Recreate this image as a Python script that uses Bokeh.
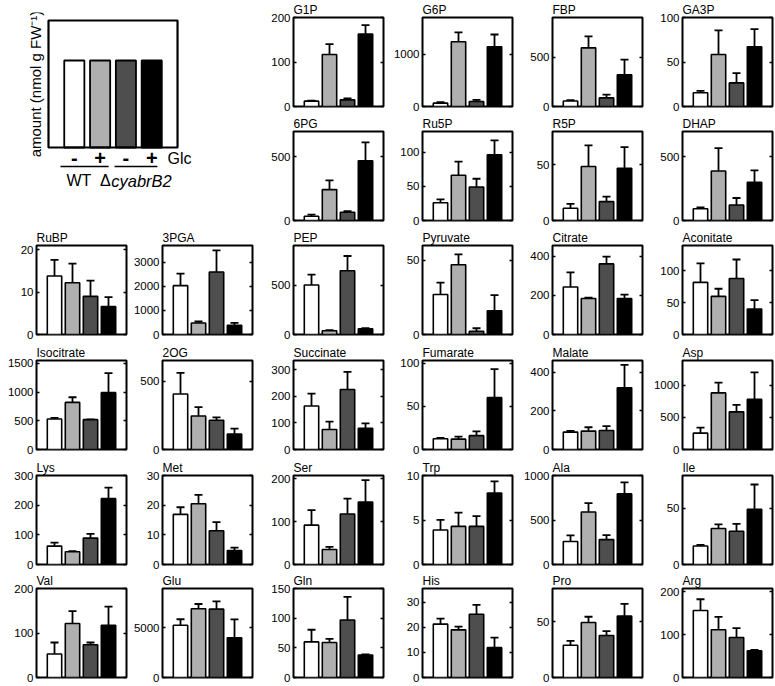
import math
from bokeh.plotting import figure
from bokeh.models import (Range1d, FixedTicker, LinearAxis, Whisker, TeeHead,
                          ColumnDataSource, Label, BoxAnnotation)
from bokeh.layouts import row, column
from bokeh.embed import file_html
from bokeh.resources import INLINE

# ---------------- data ----------------
groups = ["WT -Glc", "WT +Glc", "ΔcyabrB2 -Glc", "ΔcyabrB2 +Glc"]
positions = [1, 2, 3, 4]
legend_values = [1, 1, 1, 1]
legend_signs = ["-", "+", "-", "+"]

metabolites = ["G1P", "G6P", "FBP", "GA3P",
               "6PG", "Ru5P", "R5P", "DHAP",
               "RuBP", "3PGA", "PEP", "Pyruvate", "Citrate", "Aconitate",
               "Isocitrate", "2OG", "Succinate", "Fumarate", "Malate", "Asp",
               "Lys", "Met", "Ser", "Trp", "Ala", "Ile",
               "Val", "Glu", "Gln", "His", "Pro", "Arg"]

wt_minus = [12, 64, 55, 15.5,
            34, 26, 11, 93,
            13.8, 2030, 500, 27, 243, 82,
            530, 405, 164, 12.5, 90, 254,
            62, 16.9, 92, 3.87, 258, 16.4,
            53, 5226, 60, 21.3, 29, 156]
wt_plus = [117, 1236, 593, 58.5,
           243, 66, 48.5, 389,
           12.2, 480, 38, 47, 184, 60,
           820, 245, 75, 12, 95, 878,
           43, 20.5, 35, 4.28, 590, 32,
           122, 6870, 59, 19, 49.4, 111]
mut_minus = [15, 95, 87, 26.5,
             65, 49, 17, 122,
             9.0, 2600, 644, 2.2, 361, 88,
             520, 214, 226, 16, 98, 584,
             89, 11.4, 118, 4.28, 280, 29.5,
             74, 6840, 97, 25.2, 37.8, 93]
mut_plus = [163, 1140, 320, 67,
            470, 96, 47, 300,
            6.6, 380, 57, 16, 184, 40,
            990, 112, 80, 60, 319, 777,
            222, 4.7, 146, 8.04, 793, 49,
            118, 3970, 38, 11.9, 55.2, 62]

err_wt_minus = [1, 20, 10, 2,
                12, 5, 4, 10,
                3.8, 500, 105, 8, 75, 30,
                20, 155, 46, 1, 6, 85,
                12, 2.4, 35, 1.15, 70, 1,
                26, 600, 20.5, 2.2, 4, 26]
err_wt_plus = [23, 180, 117, 27,
               72, 20, 19, 180,
               4.5, 60, 5, 7, 5, 12,
               90, 65, 30, 3, 20, 160,
               2, 3, 6, 1.55, 100, 3.7,
               28, 480, 6, 1.3, 5.2, 30]
err_mut_minus = [3, 30, 33, 11,
                 8, 12, 4.5, 55,
                 3.7, 900, 150, 2, 37, 30,
                 0, 20, 66, 5, 23, 108,
                 14, 2.9, 36, 1.15, 50, 6.5,
                 5, 770, 39, 3.8, 3.8, 22]
err_mut_plus = [20, 235, 155, 20,
                145, 21, 19, 95,
                2.2, 100, 8, 10.5, 20, 14,
                340, 40, 18, 33, 118, 420,
                37, 1, 51, 1.3, 130, 22,
                42, 1840, 1, 4, 11, 2]

y_max = [200, 1700, 900, 100,
         700, 130, 80, 700,
         21, 3700, 900, 60, 455, 140,
         1550, 650, 335, 103, 460, 1380,
         300, 30, 208, 10, 1000, 79,
         201, 8900, 150, 35.5, 80, 207]
y_ticks = [[0, 100, 200], [0, 1000], [0, 500], [0, 50, 100],
           [0, 500], [0, 50, 100], [0, 50], [0, 500],
           [0, 10, 20], [0, 1000, 2000, 3000], [0, 500], [0, 50], [0, 200, 400], [0, 50, 100],
           [0, 500, 1000, 1500], [0, 500], [0, 100, 200, 300], [0, 50, 100], [0, 200, 400], [0, 500, 1000],
           [0, 100, 200, 300], [0, 10, 20, 30], [0, 100, 200], [0, 5, 10], [0, 500, 1000], [0, 50],
           [0, 100, 200], [0, 5000], [0, 50, 100, 150], [0, 10, 20, 30], [0, 50], [0, 100, 200]]

# ---------------- style / geometry ----------------
FONT = "Liberation Sans"
COLORS = ["#ffffff", "#afafaf", "#4e4e4e", "#000000"]
FRAME_H = 91
TOP_B = 15
ROW_HEIGHTS = [114, 114, 115, 115, 113, 115]


def panel(i, W, L, R, H):
    p = figure(width=W, height=H, x_range=Range1d(0, 5), y_range=Range1d(0, y_max[i]),
               output_backend="svg", toolbar_location=None,
               min_border_left=L, min_border_right=R, min_border_top=TOP_B,
               min_border_bottom=H - TOP_B - FRAME_H, title=metabolites[i])
    means = [wt_minus[i], wt_plus[i], mut_minus[i], mut_plus[i]]
    errs = [err_wt_minus[i], err_wt_plus[i], err_mut_minus[i], err_mut_plus[i]]
    src = ColumnDataSource(dict(x=positions, top=means,
                                upper=[m + e for m, e in zip(means, errs)],
                                lower=[m - e for m, e in zip(means, errs)],
                                color=COLORS))
    p.vbar(x="x", top="top", width=0.8, fill_color="color", line_color="black",
           line_width=1.6, source=src)
    p.add_layout(Whisker(source=src, base="x", upper="upper", lower="lower",
                         line_color="black", line_width=1.8,
                         upper_head=TeeHead(size=8, line_color="black", line_width=1.8),
                         lower_head=TeeHead(size=8, line_color="black", line_width=1.8)))
    p.xaxis.visible = False
    p.grid.visible = False
    p.outline_line_color = "black"
    p.outline_line_width = 2
    p.outline_line_alpha = 1
    ya = p.yaxis[0]
    ya.ticker = FixedTicker(ticks=y_ticks[i])
    ya.major_tick_in = 3
    ya.major_tick_out = 0
    ya.major_tick_line_width = 1.3
    ya.major_tick_line_color = "black"
    ya.minor_tick_line_color = None
    ya.axis_line_color = None
    ya.major_label_standoff = 3
    ya.major_label_text_font = FONT
    ya.major_label_text_font_size = "11.5px"
    ya.major_label_text_color = "black"
    ra = LinearAxis(ticker=FixedTicker(ticks=y_ticks[i]), major_tick_in=3, major_tick_out=0,
                    major_tick_line_width=1.3, major_tick_line_color="black",
                    minor_tick_line_color=None,
                    axis_line_color=None, major_label_text_font_size="0px",
                    major_label_standoff=0,
                    major_label_overrides={t: "" for t in y_ticks[i]})
    p.add_layout(ra, "right")
    p.title.text_font = FONT
    p.title.text_font_size = "12px"
    p.title.text_font_style = "normal"
    p.title.text_color = "black"
    p.title.standoff = 1
    p.title.align = "left"
    return p


# ---------------- legend panel ----------------
# box = data x 0..5, y 0..1.46 ; 25.8 px per x unit, 87 px per y unit
LEG_H = ROW_HEIGHTS[0] + ROW_HEIGHTS[1]
leg = figure(width=256, height=LEG_H, x_range=Range1d(-1.085, 5.89),
             y_range=Range1d(-0.517, 1.552),
             output_backend="svg", toolbar_location=None,
             min_border_left=20, min_border_right=56, min_border_top=12,
             min_border_bottom=LEG_H - 12 - 180)
leg.axis.visible = False
leg.grid.visible = False
leg.outline_line_color = None
leg.vbar(x=positions, top=legend_values, width=0.78, fill_color=COLORS,
         line_color="black", line_width=1.8)
leg.add_layout(BoxAnnotation(left=0, right=5, bottom=0, top=1.46, fill_color=None, fill_alpha=0,
                             line_color="black", line_alpha=1, line_width=2.2))
TXT = dict(text_font=FONT, text_color="black", text_baseline="middle")
leg.add_layout(Label(x=-0.504, y=0.73, text="amount (nmol g FW\u207b\u00b9)", angle=math.pi / 2,
                     text_font_size="15px", text_align="center", **TXT))
for xp, s in zip(positions, legend_signs):
    leg.add_layout(Label(x=xp, y=-0.12, text=s, text_font_size="20px", text_font_style="bold",
                         text_align="center", **TXT))
leg.add_layout(Label(x=4.61, y=-0.125, text="Glc", text_font_size="16px", text_align="left", **TXT))
leg.segment(x0=[0.465, 2.56], x1=[2.33, 4.22], y0=[-0.218, -0.218], y1=[-0.218, -0.218],
            line_color="black", line_width=1.6)
leg.add_layout(Label(x=1.18, y=-0.38, text="WT", text_font_size="16px", text_align="center", **TXT))
leg.add_layout(Label(x=2.0, y=-0.38, text="\u0394", text_font_size="16px", text_align="left", **TXT))
leg.add_layout(Label(x=2.43, y=-0.38, text="cyabrB2", text_font_size="16.5px",
                     text_font_style="italic", text_align="left", **TXT))

# ---------------- layout ----------------
top_geo = [(131, 37, 4), (129, 35, 4), (130, 36, 4), (129, 36, 3)]
six_geo = [(130, 36, 4), (126, 32, 4), (131, 37, 4), (129, 35, 4), (130, 36, 4), (129, 36, 3)]

top_rows = []
for r in range(2):
    figs = [panel(r * 4 + c, *top_geo[c], ROW_HEIGHTS[r]) for c in range(4)]
    top_rows.append(row(*figs))
top_block = row(leg, column(*top_rows))

rows = [top_block]
for r in range(4):
    base = 8 + r * 6
    rows.append(row(*[panel(base + c, *six_geo[c], ROW_HEIGHTS[r + 2]) for c in range(6)]))

layout = column(*rows)
open("out.html", "w").write(file_html(layout, INLINE))
